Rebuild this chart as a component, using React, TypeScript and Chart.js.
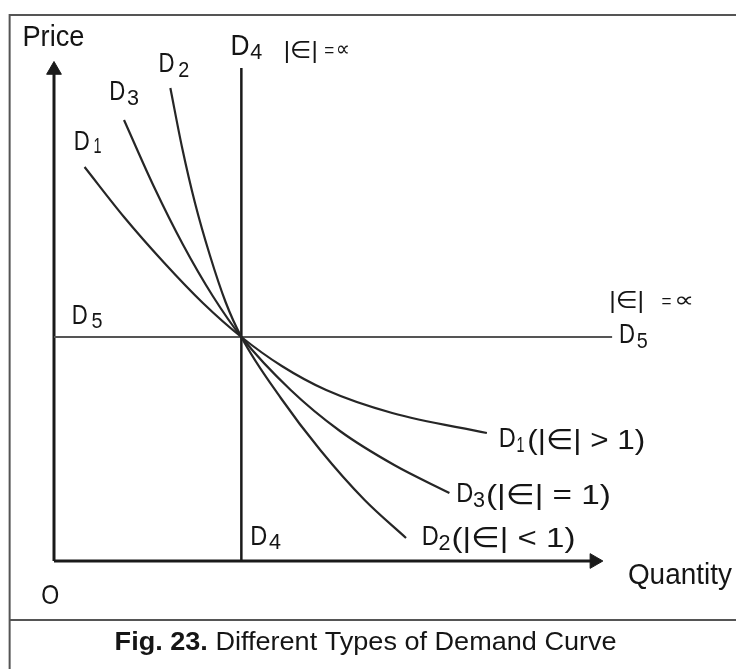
import React, { useEffect, useRef } from "react";
import { Chart, registerables } from "chart.js";

Chart.register(...registerables);

// Quantity (x) and Price (y) in arbitrary units
const D1_QTY = [31, 71, 111, 151, 190, 231, 276, 343, 439];
const D1_PRICE = [394, 344, 299, 258, 224, 195, 171, 148, 128];

const D3_QTY = [71, 101, 131, 161, 190, 240, 290, 345, 401];
const D3_PRICE = [441, 375, 316, 265, 224, 171, 130, 96, 68];

const D2_QTY = [118, 130, 143, 158, 174, 190, 230, 270, 315, 357];
const D2_PRICE = [473, 413, 358, 306, 259, 224, 163, 111, 61, 23];

// perfectly inelastic (vertical) and perfectly elastic (horizontal) demand
const D4_QTY = [190, 190];
const D4_PRICE = [0, 493];
const D5_QTY = [0, 566];
const D5_PRICE = [224, 224];

// axes with arrow heads
const X_AXIS_QTY = [0, 548];
const X_AXIS_PRICE = [0, 0];
const Y_AXIS_QTY = [0, 0];
const Y_AXIS_PRICE = [0, 491];

const X_MAX = 682;
const Y_MAX = 546;

const CAPTION_BOLD = "Fig. 23.";
const CAPTION_TEXT = " Different Types of Demand Curve";

type Seg = { t: string; x: number; y: number; s: number; w: number };

// label segments anchored in data units (x, y), font size s, fitted width w
const LABELS: Seg[] = [
  { t: "Price", x: -32, y: 515, s: 29, w: 62 },
  { t: "D", x: 179, y: 506, s: 29, w: 19 },
  { t: "4", x: 199, y: 502, s: 22, w: 12 },
  { t: "|∈|", x: 233, y: 503, s: 24, w: 34 },
  { t: "=", x: 274, y: 505, s: 18, w: 10 },
  { t: "∝", x: 286, y: 505, s: 22, w: 14 },
  { t: "D", x: 106, y: 489, s: 28, w: 16 },
  { t: "2", x: 126, y: 484, s: 22, w: 11 },
  { t: "D", x: 56, y: 461, s: 28, w: 16 },
  { t: "3", x: 74, y: 456, s: 22, w: 12 },
  { t: "D", x: 20, y: 411, s: 28, w: 16 },
  { t: "1", x: 40, y: 408, s: 22, w: 8 },
  { t: "D", x: 18, y: 237, s: 28, w: 16 },
  { t: "5", x: 38, y: 233, s: 22, w: 11 },
  { t: "D", x: 573, y: 218, s: 28, w: 16 },
  { t: "5", x: 591, y: 213, s: 22, w: 11 },
  { t: "|∈|", x: 563, y: 253, s: 24, w: 35 },
  { t: "=", x: 616, y: 254, s: 18, w: 10 },
  { t: "∝", x: 629, y: 254, s: 22, w: 20 },
  { t: "D", x: 451, y: 114, s: 28, w: 17 },
  { t: "1", x: 469, y: 109, s: 22, w: 8 },
  { t: "(|∈| > 1)", x: 480, y: 112, s: 28, w: 118 },
  { t: "D", x: 408, y: 59, s: 28, w: 17 },
  { t: "3", x: 425, y: 54, s: 22, w: 12 },
  { t: "(|∈| = 1)", x: 438, y: 57, s: 28, w: 125 },
  { t: "D", x: 373, y: 16, s: 28, w: 17 },
  { t: "2", x: 390, y: 11, s: 22, w: 12 },
  { t: "(|∈| < 1)", x: 403, y: 14, s: 28, w: 124 },
  { t: "D", x: 199, y: 16, s: 28, w: 17 },
  { t: "4", x: 218, y: 12, s: 22, w: 12 },
  { t: "O", x: -13, y: -43, s: 28, w: 18 },
  { t: "Quantity", x: 582, y: -23, s: 30, w: 104 },
];

const FONT = '"Liberation Sans", Arial, "DejaVu Sans", sans-serif';
const INK = "#151515";

function pts(xs: number[], ys: number[]) {
  return xs.map((x, i) => ({ x, y: ys[i] }));
}

function drawSeg(ctx: CanvasRenderingContext2D, text: string, x: number, y: number, size: number, w: number, bold = false) {
  ctx.save();
  ctx.font = `${bold ? "bold " : ""}${size}px ${FONT}`;
  const m = ctx.measureText(text).width;
  const sx = w > 0 ? w / m : 1;
  ctx.translate(x, y);
  ctx.scale(sx, 1);
  ctx.fillStyle = INK;
  ctx.textBaseline = "alphabetic";
  ctx.fillText(text, 0, 0);
  ctx.restore();
}

const decorPlugin = {
  id: "decor",
  beforeDraw(chart: any) {
    const ctx = chart.ctx as CanvasRenderingContext2D;
    const { width, height } = chart;
    ctx.save();
    ctx.fillStyle = "#ffffff";
    ctx.fillRect(0, 0, width, height);
    ctx.strokeStyle = "#555";
    ctx.lineWidth = 2;
    const xs = chart.scales.x;
    const ys = chart.scales.y;
    const left = xs.getPixelForValue(-45);
    const top = ys.getPixelForValue(Y_MAX);
    const sep = ys.getPixelForValue(-59);
    ctx.beginPath();
    ctx.moveTo(left, height);
    ctx.lineTo(left, top);
    ctx.lineTo(width, top);
    ctx.moveTo(left, sep);
    ctx.lineTo(width, sep);
    ctx.stroke();
    ctx.restore();
  },
  afterDraw(chart: any) {
    const ctx = chart.ctx as CanvasRenderingContext2D;
    const xs = chart.scales.x;
    const ys = chart.scales.y;
    for (const l of LABELS) {
      drawSeg(ctx, l.t, xs.getPixelForValue(l.x), ys.getPixelForValue(l.y), l.s, l.w);
    }
    // caption
    const cx = xs.getPixelForValue(316);
    const cy = ys.getPixelForValue(-89);
    ctx.save();
    ctx.font = `bold 26px ${FONT}`;
    const wb = ctx.measureText(CAPTION_BOLD).width;
    ctx.font = `26px ${FONT}`;
    const wr = ctx.measureText(CAPTION_TEXT).width;
    const total = wb + wr;
    const target = 502;
    const sx = target / total;
    const x0 = cx - target / 2;
    ctx.restore();
    ctx.save();
    ctx.translate(x0, cy);
    ctx.scale(sx, 1);
    ctx.fillStyle = INK;
    ctx.font = `bold 26px ${FONT}`;
    ctx.fillText(CAPTION_BOLD, 0, 0);
    ctx.font = `26px ${FONT}`;
    ctx.fillText(CAPTION_TEXT, wb, 0);
    ctx.restore();
  },
};

export default function App() {
  const ref = useRef<HTMLCanvasElement | null>(null);

  useEffect(() => {
    if (!ref.current) return;
    const curve = (label: string, xs: number[], ys: number[]) => ({
      label,
      data: pts(xs, ys),
      borderColor: "#262626",
      borderWidth: 2.2,
      pointRadius: 0,
      cubicInterpolationMode: "monotone" as const,
      fill: false,
      clip: false as any,
    });
    const chart = new Chart(ref.current, {
      type: "line",
      data: {
        datasets: [
          curve("D1", D1_QTY, D1_PRICE),
          curve("D3", D3_QTY, D3_PRICE),
          curve("D2", D2_QTY, D2_PRICE),
          {
            label: "D4",
            data: pts(D4_QTY, D4_PRICE),
            borderColor: "#1a1a1a",
            borderWidth: 2.5,
            pointRadius: 0,
            tension: 0,
            clip: false as any,
          },
          {
            label: "D5",
            data: pts(D5_QTY, D5_PRICE),
            borderColor: "#555555",
            borderWidth: 2,
            pointRadius: 0,
            tension: 0,
            clip: false as any,
          },
          {
            label: "Quantity axis",
            data: pts(X_AXIS_QTY, X_AXIS_PRICE),
            borderColor: "#1a1a1a",
            borderWidth: 3,
            pointRadius: [0, 8.5],
            pointStyle: "triangle",
            pointRotation: 90,
            pointBackgroundColor: "#1a1a1a",
            pointBorderColor: "#1a1a1a",
            pointBorderWidth: 1,
            tension: 0,
            clip: false as any,
          },
          {
            label: "Price axis",
            data: pts(Y_AXIS_QTY, Y_AXIS_PRICE),
            borderColor: "#1a1a1a",
            borderWidth: 3,
            pointRadius: [0, 8.5],
            pointStyle: "triangle",
            pointRotation: 0,
            pointBackgroundColor: "#1a1a1a",
            pointBorderColor: "#1a1a1a",
            pointBorderWidth: 1,
            tension: 0,
            clip: false as any,
          },
        ],
      },
      options: {
        responsive: false,
        animation: false,
        devicePixelRatio: 1,
        layout: { padding: { left: 54, right: 0, top: 15, bottom: 108 } },
        events: [],
        plugins: {
          legend: { display: false },
          tooltip: { enabled: false },
          title: { display: false },
        },
        scales: {
          x: { type: "linear", min: 0, max: X_MAX, display: false },
          y: { type: "linear", min: 0, max: Y_MAX, display: false },
        },
      },
      plugins: [decorPlugin],
    });
    return () => chart.destroy();
  }, []);

  return (
    <div style={{ position: "fixed", left: 0, top: 0, width: 736, height: 669, background: "#fff" }}>
      <canvas ref={ref} width={736} height={669} style={{ display: "block" }} />
    </div>
  );
}
